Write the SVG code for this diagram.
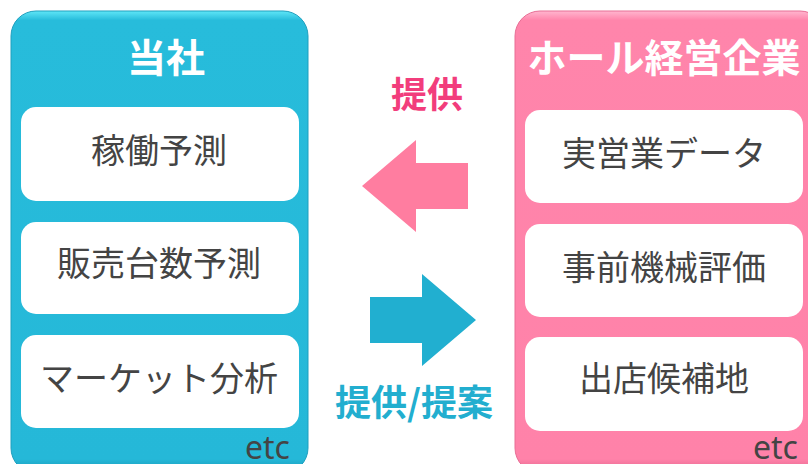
<svg xmlns="http://www.w3.org/2000/svg" width="808" height="464" viewBox="0 0 808 464">
<defs>
<linearGradient id="gBlue" x1="0" y1="0" x2="0" y2="1">
<stop offset="0" stop-color="#5fe6f7"/>
<stop offset="0.02" stop-color="#27bcdb"/>
<stop offset="0.97" stop-color="#25b8d8"/>
<stop offset="1" stop-color="#1a96b4"/>
</linearGradient>
<linearGradient id="gPink" x1="0" y1="0" x2="0" y2="1">
<stop offset="0" stop-color="#ffb6cf"/>
<stop offset="0.02" stop-color="#ff85ab"/>
<stop offset="0.97" stop-color="#ff82a9"/>
<stop offset="1" stop-color="#e0628a"/>
</linearGradient>
<style>
.title{font-family:"Noto Sans CJK JP","Noto Sans",sans-serif;font-weight:bold;fill:#fff;text-anchor:middle}
.item{font-family:"Noto Sans CJK JP","Noto Sans",sans-serif;font-size:34px;fill:#444;text-anchor:middle}
.box{fill:#fff}
.etc{font-family:"Noto Sans","Noto Sans CJK JP",sans-serif;font-size:32px;fill:#444}
.lbl{font-family:"Noto Sans CJK JP","Noto Sans",sans-serif;font-weight:bold;font-size:36px;text-anchor:middle}
</style>
</defs>
<g id="company">
<rect x="11" y="11" width="297" height="462" rx="25" fill="url(#gBlue)" stroke="#1e9fbe" stroke-width="1"/>
<text class="title" x="166" y="72" font-size="39">当社</text>
<g id="c1"><rect class="box" x="21" y="107" width="278" height="94" rx="15"/><text class="item" x="159" y="163">稼働予測</text></g>
<g id="c2"><rect class="box" x="21" y="222" width="278" height="92" rx="15"/><text class="item" x="159" y="276">販売台数予測</text></g>
<g id="c3"><rect class="box" x="21" y="335" width="278" height="93" rx="15"/><text class="item" x="159" y="391">マーケット分析</text></g>
<text class="etc" x="245" y="459">etc</text>
</g>
<g id="hall">
<rect x="515" y="11" width="310" height="462" rx="25" fill="url(#gPink)" stroke="#e86e95" stroke-width="1"/>
<text class="title" x="664" y="72" font-size="39">ホール経営企業</text>
<g id="h1"><rect class="box" x="525" y="110" width="278" height="93" rx="15"/><text class="item" x="664" y="166">実営業データ</text></g>
<g id="h2"><rect class="box" x="525" y="224" width="278" height="93" rx="15"/><text class="item" x="664" y="280">事前機械評価</text></g>
<g id="h3"><rect class="box" x="525" y="337" width="278" height="94" rx="15"/><text class="item" x="664" y="391">出店候補地</text></g>
<text class="etc" x="753" y="459">etc</text>
</g>
<g id="connectors">
<polygon points="362,186 416,140 416,163 468,163 468,209 416,209 416,232" fill="#ff7da0"/>
<text class="lbl" x="427" y="108" fill="#f23d7c">提供</text>
<polygon points="476,320 422,274 422,297 370,297 370,343 422,343 422,366" fill="#21afd0"/>
<text class="lbl" x="414" y="416" fill="#22aecf" font-size="38">提供/提案</text>
</g>
</svg>
